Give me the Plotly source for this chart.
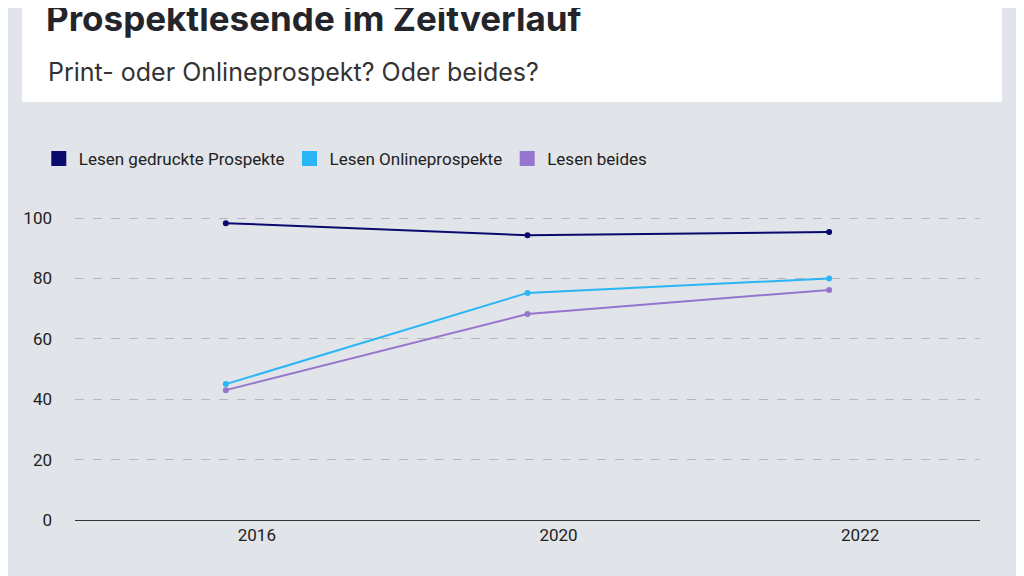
import plotly.graph_objects as go

years = ["2016", "2020", "2022"]
gedruckt = [98.3, 94.3, 95.4]
online = [45.0, 75.2, 80.0]
beides = [43.0, 68.2, 76.2]
names = ["Lesen gedruckte Prospekte", "Lesen Onlineprospekte", "Lesen beides"]
colors = ["#0a0a6e", "#29b6f6", "#9575cd"]
series = [gedruckt, online, beides]

fig = go.Figure()
for n, c, s in zip(names, colors, series):
    fig.add_trace(go.Scatter(x=years, y=s, mode="lines+markers", name=n,
                             line=dict(color=c, width=2), marker=dict(size=6, color=c),
                             showlegend=False, hoverinfo="skip"))
for n, c in zip(names, colors):
    fig.add_trace(go.Scatter(x=[None], y=[None], mode="markers", name=n,
                             marker=dict(symbol="square", size=15, color=c)))

H_PLOT = 305.0  # pixel height of plot area
fy = lambda py: (512 - py) / H_PLOT  # py: figure-pixel y

fig.update_layout(
    width=1024, height=576, paper_bgcolor="#e1e4e8", plot_bgcolor="#e1e4e8",
    margin=dict(l=67, r=52, t=576 - 64 - 305, b=64),
    font=dict(family="Roboto", size=17, color="#222"),
    legend=dict(orientation="h", x=-0.04, xanchor="left", y=fy(151), yanchor="middle",
                font=dict(size=17, color="#222"), tracegroupgap=0),
    xaxis=dict(type="category", range=[-0.5, 2.5], showgrid=False, ticks="",
               ticklabelshift=31, tickfont=dict(size=17), showline=True,
               linecolor="#333", linewidth=1, zeroline=False),
    yaxis=dict(range=[0, 101], tickvals=[0, 20, 40, 60, 80, 100], showgrid=True,
               gridcolor="#b5b8bc", griddash="dash", zeroline=False, ticks="",
               tickfont=dict(size=17), ticklabelstandoff=22),
    shapes=[dict(type="rect", xref="paper", yref="paper",
                 x0=(14 - 67) / 905, x1=(994 - 67) / 905,
                 y0=fy(94), y1=fy(-20),
                 fillcolor="white", line=dict(width=0), layer="below")],
    annotations=[
        dict(text="<b>Prospektlesende im Zeitverlauf</b>", xref="paper", yref="paper",
             x=(36 - 67) / 905, y=fy(10), xanchor="left", yanchor="middle",
             showarrow=False, font=dict(family="Inter", size=35, color="#23252b")),
        dict(text="Print- oder Onlineprospekt? Oder beides?", xref="paper", yref="paper",
             x=(38 - 67) / 905, y=fy(64), xanchor="left", yanchor="middle",
             showarrow=False, font=dict(family="Inter", size=25, color="#333")),
    ],
)
fig.write_html("out.html")
